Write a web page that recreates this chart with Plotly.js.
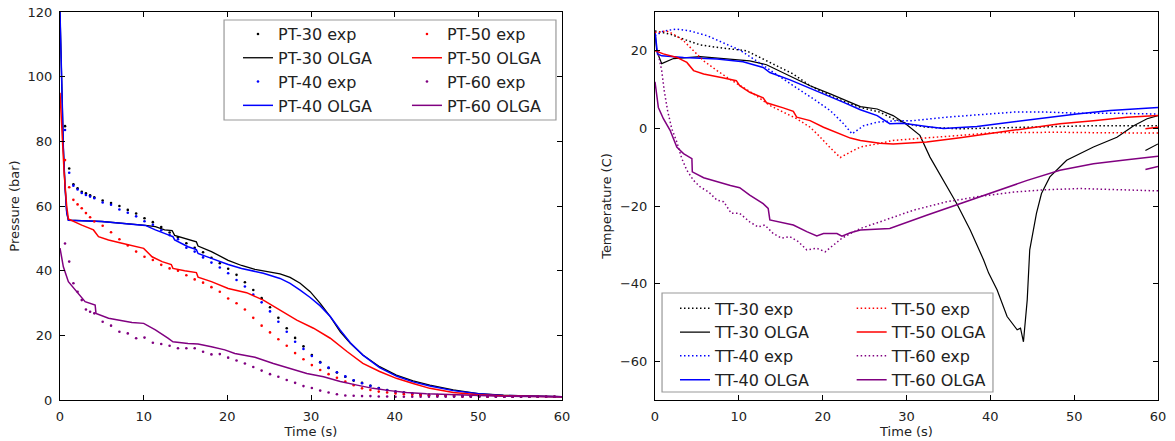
<!DOCTYPE html>
<html>
<head>
<meta charset="utf-8">
<script src="https://cdn.plot.ly/plotly-3.0.1.min.js"></script>
<style>html,body{margin:0;padding:0;background:#fff;}#chart{width:1175px;height:441px;}</style>
</head>
<body>
<div id="chart"></div>
<script>
// ---------- Pressure: experimental (sampled) ----------
const ptExpTime = [0.6,1.1,1.6,2.1,2.6,3.1,3.6,4.1,5.1,6.1,7.1,8.1,9.1,10.1,11.1,12.1,13.1,14.1,15.1,16.1,17.1,18.1,19.1,20.1,21.1,22.1,23.1,24.1,25.1,26.1,27.1,28.1,29.1,30.1,31.1,32.1,33.1,34.1,35.1,36.1,37.1,38.1,39.1,40.1,41.1,42.1,43.1,44.1,45.1,46.1,47.1,48.1,49.1,50.1,51.1,52.1,53.1,54.1,55.1,56.1,57.1,58.1,59.1];
const pt30Exp = [84.7,71.6,66.7,65.5,64.4,63.9,63.3,62.7,61.7,60.9,60.0,58.8,57.7,56.2,55.0,53.5,51.8,50.3,48.5,47.1,45.7,44.0,42.3,40.6,38.7,36.4,34.0,31.5,28.7,25.4,22.2,19.2,16.6,13.9,11.7,9.9,8.5,7.2,6.0,5.3,4.4,3.7,3.1,2.6,2.3,2.0,1.8,1.6,1.5,1.4,1.3,1.2,1.2,1.1,1.1,1.1,1.0,1.0,1.0,1.0,1.0,1.0,1.0];
const pt40Exp = [83.5,70.3,66.3,65.1,64.0,63.4,62.9,62.4,61.1,60.4,58.9,57.9,56.8,55.3,54.2,52.5,51.0,49.7,47.1,45.9,44.1,42.5,41.0,39.2,37.1,35.1,32.6,30.2,27.4,24.2,21.1,18.0,15.8,13.6,11.6,10.0,8.6,7.3,6.1,5.2,4.4,3.6,3.0,2.5,2.2,1.9,1.7,1.5,1.4,1.3,1.2,1.2,1.1,1.1,1.1,1.0,1.0,1.0,1.0,1.0,1.0,1.0,1.0];
const pt50Exp = [74.2,65.8,61.9,60.5,59.3,57.8,56.5,55.2,53.9,51.9,49.7,47.8,45.9,44.3,43.3,41.8,40.7,40.0,38.6,37.3,36.3,34.9,33.5,31.4,29.9,28.0,25.4,23.0,20.9,18.8,16.8,14.5,12.6,10.8,9.3,8.0,6.9,5.7,4.6,3.6,3.1,2.6,2.3,2.0,1.8,1.6,1.5,1.4,1.3,1.2,1.2,1.1,1.1,1.0,1.0,1.0,1.0,1.0,1.0,1.0,1.0,1.0,1.0];
const pt60Exp = [48.4,42.8,36.1,33.5,30.9,28.0,27.3,26.8,24.2,23.0,21.1,20.6,19.1,19.3,17.7,17.3,16.8,16.0,16.0,16.0,14.9,14.1,14.2,13.1,12.2,11.3,10.2,9.1,8.0,7.2,6.2,5.3,4.3,3.7,2.9,2.3,1.8,1.4,1.3,1.2,1.2,1.1,1.1,1.0,1.0,1.0,1.0,1.0,1.0,1.0,1.0,1.0,1.0,1.0,1.0,1.0,1.0,1.0,1.0,1.0,1.0,1.0,1.0];

// ---------- Pressure: OLGA ----------
const pt30OlgaT = [0,0.2,0.4,0.6,0.8,1.0,5,10.2,11.4,12.5,13.4,13.7,14.5,16.3,16.5,18.1,20.1,21.7,23.3,24.3,26.3,27.5,28.7,29.9,31.1,32.3,33.5,34.7,36.2,38.2,40.2,42.2,44.2,47,50,53,56,60];
const pt30OlgaP = [120,95,78,66,58,55.6,55.2,54.0,53.6,52.6,52.4,50.9,50.3,48.9,47.6,45.9,43.2,41.6,40.4,40.0,39.0,37.9,36.1,33.5,29.9,25.8,21.1,17.5,13.9,10.3,7.7,5.9,4.6,3.1,2.0,1.5,1.2,1.0];
const pt40OlgaT = [0,0.2,0.4,0.6,0.8,1.0,5,10.2,11.4,13.1,13.5,13.7,15.3,16.3,16.5,18.1,20.1,21.7,23.3,24.3,26.3,27.5,28.7,29.9,31.1,32.3,33.5,34.7,36.2,38.2,40.2,42.2,44.2,47,50,53,56,60];
const pt40OlgaP = [120,95,78,66,58,55.6,55.2,54.0,52.6,50.9,50.5,49.5,47.4,46.5,45.3,43.8,41.9,40.7,39.7,39.2,37.6,36.1,34.0,31.7,29.1,25.8,21.6,17.7,13.9,10.0,7.4,5.6,4.3,2.9,1.9,1.4,1.2,1.0];
const pt50OlgaT = [0,0.3,0.5,0.8,1.0,2.6,4.0,4.6,5.8,7.4,9.0,10.0,11.0,12.2,13.3,13.5,14.9,16.3,16.5,18.1,20.1,21.7,22.3,24.3,26.3,28.3,30.3,32.3,34.3,36.2,38.2,40.2,42.2,44.2,47,50,53,56,60];
const pt50OlgaP = [95,80,70,60,56,54.1,52.6,50.5,49.5,48.5,47.6,46.9,44.3,42.8,41.9,40.7,40.0,39.4,38.0,36.6,34.5,33.7,33.2,30.9,27.8,24.7,22.2,19.1,15.0,11.3,8.8,6.7,5.1,3.6,2.3,1.6,1.3,1.1,1.0];
const pt60OlgaT = [0,0.4,1.0,1.8,3.0,4.2,4.3,5.8,7.4,8.6,10,11.4,12.9,13.5,15.3,16.5,18.1,19.7,20.9,23.3,25.5,27.5,29.5,31.5,33.5,35.5,37.4,39.4,41.4,43.8,48,52,56,60];
const pt60OlgaP = [47,41.2,36.6,34.0,30.4,29.4,26.8,25.3,24.5,24.0,23.7,21.7,19.1,18.0,17.5,17.3,16.5,15.5,14.4,13.2,11.3,9.8,8.2,7.2,5.7,4.6,3.6,2.9,2.3,1.9,1.5,1.2,1.1,1.0];

// ---------- Temperature: experimental ----------
const tt30ExpT = [0,1.8,3.4,5.4,7.4,9.3,10.9,12.5,14.5,16.5,18.5,20.9,23.3,24.5,26.8,28.4,30.4,32.4,36.4,40.4,44.4,48.3,52.3,56.3,60];
const tt30Exp  = [25.1,24.3,23.0,21.5,20.9,20.4,20.0,18.3,16.1,14.0,11.0,8.4,6.3,5.4,4.2,2.5,1.0,0.3,-0.1,0.05,0.3,0.5,0.7,0.7,0.7];
const tt40ExpT = [0,1.0,2.6,4.2,6.2,8.2,10.1,12.1,14.1,16.5,18.9,20.9,22.5,23.5,24.9,26.5,28.8,30.8,34.8,38.8,42.8,46.7,50.7,54.7,60];
const tt40Exp  = [23.9,25.1,25.6,25.1,23.9,22.1,20.2,17.4,14.4,11.0,7.6,4.6,1.2,-1.4,0.7,1.6,2.0,2.0,2.9,3.5,4.2,4.2,3.9,3.9,3.7];
const tt50ExpT = [0,1.4,2.2,3.4,4.6,5.8,7.4,8.9,10.5,12.1,13.7,15.3,16.9,18.5,19.6,20.9,22.1,23.3,24.5,26.5,28.4,30.8,32.4,36.4,40.4,44.4,48.3,52.3,56.3,60];
const tt50Exp  = [24.7,25.1,24.3,22.6,20.0,17.4,14.9,12.7,10.6,8.4,5.9,4.2,2.5,0.3,-2.0,-5.0,-7.5,-6.1,-4.8,-4.0,-3.1,-2.7,-2.4,-1.8,-1.1,-1.0,-1.0,-1.1,-1.1,-1.2];
const tt60ExpT = [0.3,0.8,1.1,1.5,2.0,2.6,3.2,3.8,4.6,5.4,6.4,7.4,8.2,9.1,10.1,11.3,12.3,13.1,14.1,15.1,16.1,17.1,18.1,19.3,20.3,21.3,22.3,23.3,24.5,26.8,30.8,34.8,38.8,42.8,46.7,50.7,54.7,60];
const tt60Exp  = [20,14.9,9.7,4.6,-0.1,-3.5,-7.8,-10.8,-13.4,-15.1,-16.4,-18.5,-18.9,-21.9,-21.9,-24.1,-25.4,-24.9,-27.1,-28.3,-27.9,-29.2,-31.3,-30.9,-31.8,-30.1,-28.3,-27.1,-25.8,-24.1,-21.1,-18.9,-17.5,-16.4,-15.8,-15.5,-15.8,-16.1];

// ---------- Temperature: OLGA ----------
const tt30OlgaT = [0,0.2,0.8,2.2,5.4,9.3,11.3,13.3,16.1,18.5,20.9,23.3,24.5,26.5,28.4,30.0,31.6,32.8,34.4,36.0,37.6,39.2,39.8,40.8,42.0,43.2,43.6,43.95,44.4,44.7,45.5,46.1,47.1,49.1,52.3,55.1,57.1,58.7,60];
const tt30OlgaC = [25,20,16.7,18.0,18.5,17.9,17.4,16.4,13.6,11.0,8.9,6.7,5.6,5.0,3.3,1.0,-1.8,-7.4,-13.4,-19.4,-26.2,-33.9,-37.3,-41.6,-48.5,-51.9,-51.5,-55,-44.2,-31.3,-21.9,-16.8,-12.5,-8.2,-4.8,-2.3,0.7,2.5,3.3];
const tt40OlgaT = [0,0.3,0.8,3.4,7.4,10.5,12.9,13.7,16.1,19.3,22.5,24.5,25.7,26.5,28.0,29.6,32.4,34.4,38.4,42.4,46.3,50.3,54.3,60];
const tt40OlgaC = [25,19.2,18.7,18.3,17.9,17.2,15.7,14.4,12.5,9.7,6.7,4.8,4.0,3.3,1.2,1.3,0.5,0.0,0.5,1.6,2.7,3.7,4.6,5.4];
const tt50OlgaT = [0,1.0,2.6,3.8,4.6,5.8,8.2,9.7,10.1,11.3,12.9,13.3,15.3,16.5,16.9,18.5,20.1,21.7,23.3,24.5,26.8,28.4,32.4,36.4,40.4,44.4,48.3,52.3,56.3,60];
const tt50OlgaC = [20,19.2,18.3,17.0,14.9,14.0,13.0,12.3,11.0,9.3,7.9,6.6,5.3,4.4,2.9,2.0,0.3,-1.0,-2.5,-3.1,-3.8,-4.0,-3.5,-2.4,-1.2,-0.1,1.2,2.0,2.9,3.3];
const tt60OlgaT = [0,0.4,1.0,1.8,2.6,3.4,4.4,4.45,5.8,7.4,9.0,10.1,11.3,12.9,13.5,13.7,15.3,16.5,18.1,19.3,20.1,21.7,22.3,23.3,24.5,28.0,32.4,36.4,40.4,44.4,48.3,52.3,56.3,60];
const tt60OlgaC = [12,5.4,2.5,-0.5,-4.8,-6.5,-7.8,-11.2,-12.7,-13.8,-14.7,-15.3,-17.2,-19.4,-20.6,-23.6,-24.3,-24.9,-26.6,-27.7,-27.1,-27.1,-27.8,-26.9,-26.2,-25.8,-22.4,-19.4,-16.4,-13.4,-10.8,-9.1,-8.1,-7.2];

// short segments at the right edge
const tailT = [58.5,60];
const tailBlack = [-5.7,-4.0];
const tailRed = [-0.1,0.3];
const tailPurple = [-10.6,-9.8];

const BLACK='#000000', BLUE='#0000ff', RED='#ff0000', PURPLE='#800080';
const FONT='DejaVu Sans, sans-serif';

function expDots(x,y,name,color,leg){
  return {x:x,y:y,name:name,type:'scatter',mode:'markers',marker:{color:color,size:2.6},xaxis:'x',yaxis:'y',legend:leg};
}
function olga(x,y,name,color,ax,ay,leg,w){
  return {x:x,y:y,name:name,type:'scatter',mode:'lines',line:{color:color,width:w||1.5},xaxis:ax,yaxis:ay,legend:leg};
}
function expDotted(x,y,name,color,leg){
  return {x:x,y:y,name:name,type:'scatter',mode:'lines',line:{color:color,width:1.5,dash:'1.5px,2.5px'},xaxis:'x2',yaxis:'y2',legend:leg};
}

const traces = [
  expDots(ptExpTime,pt30Exp,'PT-30 exp',BLACK,'legend'),
  olga(pt30OlgaT,pt30OlgaP,'PT-30 OLGA',BLACK,'x','y','legend',1.3),
  expDots(ptExpTime,pt40Exp,'PT-40 exp',BLUE,'legend'),
  olga(pt40OlgaT,pt40OlgaP,'PT-40 OLGA',BLUE,'x','y','legend'),
  expDots(ptExpTime,pt50Exp,'PT-50 exp',RED,'legend2'),
  olga(pt50OlgaT,pt50OlgaP,'PT-50 OLGA',RED,'x','y','legend2'),
  expDots(ptExpTime,pt60Exp,'PT-60 exp',PURPLE,'legend2'),
  olga(pt60OlgaT,pt60OlgaP,'PT-60 OLGA',PURPLE,'x','y','legend2'),

  expDotted(tt30ExpT,tt30Exp,'TT-30 exp',BLACK,'legend3'),
  olga(tt30OlgaT,tt30OlgaC,'TT-30 OLGA',BLACK,'x2','y2','legend3',1.2),
  expDotted(tt40ExpT,tt40Exp,'TT-40 exp',BLUE,'legend3'),
  olga(tt40OlgaT,tt40OlgaC,'TT-40 OLGA',BLUE,'x2','y2','legend3'),
  expDotted(tt50ExpT,tt50Exp,'TT-50 exp',RED,'legend4'),
  olga(tt50OlgaT,tt50OlgaC,'TT-50 OLGA',RED,'x2','y2','legend4'),
  expDotted(tt60ExpT,tt60Exp,'TT-60 exp',PURPLE,'legend4'),
  olga(tt60OlgaT,tt60OlgaC,'TT-60 OLGA',PURPLE,'x2','y2','legend4'),

  {x:tailT,y:tailBlack,type:'scatter',mode:'lines',line:{color:BLACK,width:1.2},xaxis:'x2',yaxis:'y2',showlegend:false,hoverinfo:'skip'},
  {x:tailT,y:tailRed,type:'scatter',mode:'lines',line:{color:RED,width:1.5},xaxis:'x2',yaxis:'y2',showlegend:false,hoverinfo:'skip'},
  {x:tailT,y:tailPurple,type:'scatter',mode:'lines',line:{color:PURPLE,width:1.5},xaxis:'x2',yaxis:'y2',showlegend:false,hoverinfo:'skip'}
];

const axisBase = {
  showgrid:false, zeroline:false, showline:true, linecolor:'#000', linewidth:1,
  mirror:'ticks', ticks:'inside', ticklen:5, tickcolor:'#000', tickwidth:1,
  tickfont:{family:FONT,size:13,color:'#222'}
};
const legBase = {bgcolor:'rgba(0,0,0,0)',borderwidth:0,font:{family:FONT,size:16,color:'#222'},xanchor:'left',yanchor:'top',traceorder:'normal',tracegroupgap:0,itemwidth:30};

const layout = {
  width:1175, height:441,
  margin:{l:60,r:17,t:12,b:41},
  paper_bgcolor:'#fff', plot_bgcolor:'#fff',
  font:{family:FONT,color:'#222'},
  xaxis: Object.assign({}, axisBase, {domain:[0,0.4572], range:[0,60], tickvals:[0,10,20,30,40,50,60], ticklabelstandoff:4,
          title:{text:'Time (s)', font:{family:FONT,size:13,color:'#222'}, standoff:2}, anchor:'y'}),
  yaxis: Object.assign({}, axisBase, {domain:[0,1], range:[0,120], tickvals:[0,20,40,60,80,100,120], ticklabelstandoff:4,
          title:{text:'Pressure (bar)', font:{family:FONT,size:13,color:'#222'}, standoff:5}, anchor:'x'}),
  xaxis2: Object.assign({}, axisBase, {domain:[0.5419,1], range:[0,60], tickvals:[0,10,20,30,40,50,60], ticklabelstandoff:4,
          title:{text:'Time (s)', font:{family:FONT,size:13,color:'#222'}, standoff:2}, anchor:'y2'}),
  yaxis2: Object.assign({}, axisBase, {domain:[0,1], range:[-70,30], tickvals:[-60,-40,-20,0,20], ticktext:['\u221260','\u221240','\u221220','0','20'], ticklabelstandoff:4,
          title:{text:'Temperature (C)', font:{family:FONT,size:13,color:'#222'}, standoff:5}, anchor:'x2'}),
  legend:  Object.assign({}, legBase, {x:0.1621, y:0.987}),
  legend2: Object.assign({}, legBase, {x:0.3160, y:0.987}),
  legend3: Object.assign({}, legBase, {x:0.5601, y:0.280}),
  legend4: Object.assign({}, legBase, {x:0.7210, y:0.280}),
  shapes:[
    {type:'rect',xref:'paper',yref:'paper',x0:0.1494,x1:0.4517,y0:0.7216,y1:0.9794,line:{color:'#999',width:1.2},fillcolor:'rgba(255,255,255,1)',layer:'below'},
    {type:'rect',xref:'paper',yref:'paper',x0:0.5483,x1:0.8497,y0:0.0206,y1:0.2758,line:{color:'#999',width:1.2},fillcolor:'rgba(255,255,255,1)',layer:'below'}
  ],
  showlegend:true
};

Plotly.newPlot('chart', traces, layout, {staticPlot:true, displayModeBar:false});
</script>
</body>
</html>
